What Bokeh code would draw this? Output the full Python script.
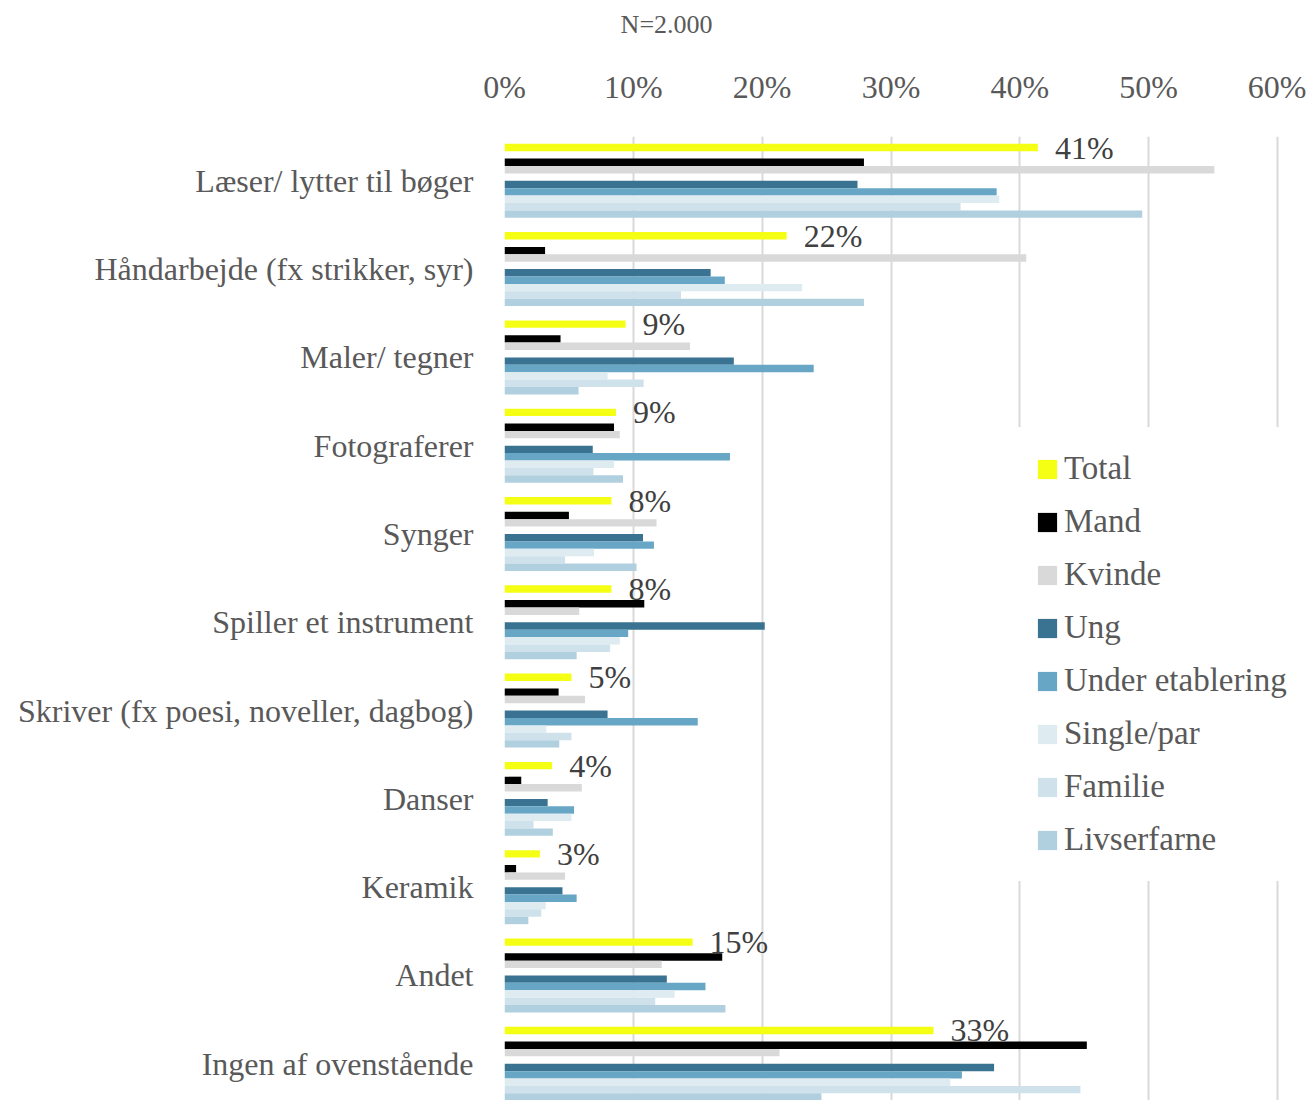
from bokeh.plotting import figure
from bokeh.layouts import column
from bokeh.models import (ColumnDataSource, Range1d, FixedTicker, NumeralTickFormatter,
                          Legend, LegendItem, LabelSet, Label)
from bokeh.transform import dodge
from bokeh.core.properties import value
from bokeh.embed import file_html
from bokeh.resources import INLINE

categories = ["Læser/ lytter til bøger", "Håndarbejde (fx strikker, syr)", "Maler/ tegner",
              "Fotograferer", "Synger", "Spiller et instrument",
              "Skriver (fx poesi, noveller, dagbog)", "Danser", "Keramik", "Andet",
              "Ingen af ovenstående"]

total   = [41.4, 21.9, 9.4, 8.65, 8.3, 8.3, 5.2, 3.7, 2.75, 14.6, 33.3]
mand    = [27.9, 3.15, 4.35, 8.5, 5.0, 10.85, 4.2, 1.3, 0.9, 16.9, 45.2]
kvinde  = [55.1, 40.5, 14.4, 8.95, 11.8, 5.8, 6.25, 6.0, 4.7, 12.2, 21.35]
ung     = [27.4, 16.0, 17.8, 6.85, 10.75, 20.2, 8.0, 3.35, 4.5, 12.6, 38.0]
under   = [38.2, 17.1, 24.0, 17.5, 11.6, 9.6, 15.0, 5.4, 5.6, 15.6, 35.5]
single  = [38.4, 23.1, 8.0, 8.5, 6.95, 8.95, 3.25, 5.2, 3.2, 13.2, 34.6]
familie = [35.4, 13.7, 10.8, 6.9, 4.7, 8.2, 5.2, 2.25, 2.85, 11.7, 44.7]
livs    = [49.5, 27.9, 5.75, 9.2, 10.25, 5.6, 4.25, 3.75, 1.85, 17.15, 24.6]

series_names = ["Total", "Mand", "Kvinde", "Ung", "Under etablering", "Single/par", "Familie", "Livserfarne"]
series_vals = [total, mand, kvinde, ung, under, single, familie, livs]
series_colors = ["#F4FF14", "#000000", "#D9D9D9", "#3A7391", "#68A6C6", "#DEEBF1", "#CFE1EA", "#B1D0DF"]
series_slots = [0, 2, 3, 5, 6, 7, 8, 9]
tick_values = [0, 0.1, 0.2, 0.3, 0.4, 0.5, 0.6]
title_text = "N=2.000"

FONT = "Liberation Serif"
GREY = "#595959"

x_range = Range1d(0, 0.6225)

# --- title strip (frame aligned with the chart's frame by the column layout) ---
tp = figure(width=1306, height=48, output_backend="svg", toolbar_location=None,
            x_range=x_range, y_range=Range1d(0, 48),
            x_axis_location=None, y_axis_location=None,
            min_border_left=0, min_border_right=0, min_border_top=0, min_border_bottom=0)
tp.outline_line_color = None
tp.grid.visible = False
tp.add_layout(Label(x=0.1258, y=24, text=title_text, text_align="center", text_baseline="middle",
                    text_font=FONT, text_font_size="26px", text_color=GREY))

# --- main chart ---
ypos = [-i for i in range(len(categories))]
data = dict(y=ypos)
for i, vals in enumerate(series_vals):
    data[f"s{i}"] = [v / 100 for v in vals]
data["lbl"] = [f"{round(v)}%" for v in total]
src = ColumnDataSource(data)

p = figure(width=1306, height=1052, output_backend="svg", toolbar_location=None,
           x_range=x_range, y_range=Range1d(-10.416, 0.5017),
           x_axis_location="above", min_border_left=504, min_border_right=0,
           min_border_top=88, min_border_bottom=0)
p.outline_line_color = None

n_slots = 10
slot_h = 0.0838
items = []
for i, (name, color, slot) in enumerate(zip(series_names, series_colors, series_slots)):
    off = (n_slots / 2 - 0.5 - slot) * slot_h
    r = p.hbar(y=dodge("y", off, range=p.y_range), left=0, right=f"s{i}", height=slot_h,
               fill_color=color, line_color=None, source=src)
    items.append(LegendItem(label=name, renderers=[r]))

off_total = (n_slots / 2 - 0.5 - series_slots[0]) * slot_h
labels = LabelSet(x="s0", y=dodge("y", off_total, range=p.y_range), text="lbl", source=src,
                  x_offset=17, text_align="left", text_baseline="middle",
                  text_font=value(FONT), text_font_size="32px", text_color="#404040")
p.add_layout(labels)

xa = p.xaxis[0]
xa.ticker = FixedTicker(ticks=tick_values)
xa.formatter = NumeralTickFormatter(format="0%")
xa.axis_line_color = None
xa.major_tick_line_color = None
xa.minor_tick_line_color = None
xa.major_label_text_font = FONT
xa.major_label_text_font_size = "32px"
xa.major_label_text_color = GREY
xa.major_label_standoff = 26

ya = p.yaxis[0]
ya.ticker = FixedTicker(ticks=ypos)
ya.major_label_overrides = {y: c for y, c in zip(ypos, categories)}
ya.axis_line_color = None
ya.major_tick_line_color = None
ya.minor_tick_line_color = None
ya.major_label_text_font = FONT
ya.major_label_text_font_size = "32px"
ya.major_label_text_color = GREY
ya.major_label_standoff = 25

p.xgrid.ticker = FixedTicker(ticks=tick_values)
p.xgrid.grid_line_color = "#D9D9D9"
p.xgrid.grid_line_width = 2
p.ygrid.grid_line_color = None

legend = Legend(items=items, location=(508, 219), glyph_width=24, glyph_height=24,
                label_text_font=FONT, label_text_font_size="33px", label_text_color=GREY,
                spacing=16, padding=22, margin=0, label_standoff=5,
                border_line_color="white", border_line_width=1,
                background_fill_color="white", background_fill_alpha=1.0)
p.add_layout(legend)

layout = column(tp, p, spacing=0)
open("out.html", "w").write(file_html(layout, INLINE))
